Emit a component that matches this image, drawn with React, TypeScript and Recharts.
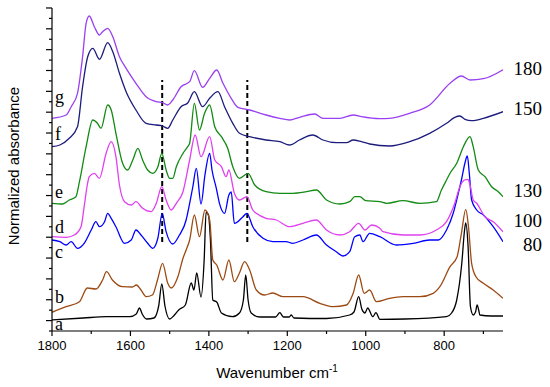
import React from 'react';
import { LineChart, Line, XAxis, YAxis, ReferenceLine } from 'recharts';

// wavenumbers (cm-1) and normalized absorbance (stacked offsets) per spectrum
const waveA = [1800, 1720, 1661, 1602, 1585, 1577, 1570, 1559, 1540, 1528, 1520, 1512, 1500, 1490, 1477, 1460, 1445, 1438, 1431, 1420, 1412, 1407, 1401, 1396, 1390, 1380, 1368, 1340, 1322, 1312, 1306, 1300, 1292, 1270, 1230, 1219, 1210, 1195, 1190, 1183, 1100, 1041, 1030, 1018, 1010, 1002, 995, 982, 974, 964, 900, 794, 781, 768, 755, 748, 745, 739, 733, 726, 720, 716, 712, 709, 680, 650];
const absA = [0.11, 0.13, 0.143, 0.143, 0.17, 0.23, 0.17, 0.12, 0.13, 0.25, 0.47, 0.25, 0.12, 0.15, 0.21, 0.26, 0.48, 0.41, 0.58, 0.34, 0.71, 1.19, 1.16, 0.91, 0.31, 0.29, 0.18, 0.143, 0.18, 0.31, 0.56, 0.31, 0.18, 0.14, 0.14, 0.183, 0.14, 0.14, 0.16, 0.13, 0.125, 0.16, 0.19, 0.343, 0.22, 0.18, 0.23, 0.143, 0.183, 0.117, 0.12, 0.143, 0.18, 0.31, 0.68, 1.01, 1.08, 0.843, 0.243, 0.16, 0.19, 0.26, 0.21, 0.16, 0.15, 0.15];

const waveB = [1800, 1764, 1730, 1710, 1688, 1671, 1661, 1646, 1620, 1595, 1585, 1573, 1560, 1544, 1531, 1518, 1505, 1496, 1479, 1466, 1458, 1449, 1437, 1424, 1410, 1398, 1390, 1380, 1364, 1349, 1335, 1322, 1309, 1296, 1279, 1258, 1237, 1211, 1186, 1160, 1117, 1083, 1049, 1032, 1018, 1004, 990, 973, 939, 905, 862, 828, 811, 785, 767, 756, 745, 738, 730, 719, 700, 675, 650];
const absB = [0.187, 0.243, 0.293, 0.43, 0.42, 0.51, 0.593, 0.51, 0.443, 0.44, 0.46, 0.41, 0.343, 0.36, 0.51, 0.677, 0.48, 0.43, 0.543, 0.727, 0.81, 0.91, 1.16, 0.943, 1.21, 1.11, 0.71, 0.66, 0.51, 0.71, 0.493, 0.58, 0.693, 0.61, 0.41, 0.36, 0.38, 0.343, 0.343, 0.343, 0.277, 0.243, 0.26, 0.377, 0.56, 0.377, 0.41, 0.293, 0.327, 0.343, 0.343, 0.377, 0.443, 0.643, 0.743, 0.977, 1.217, 1.043, 0.677, 0.543, 0.477, 0.41, 0.327];

const waveC = [1800, 1780, 1764, 1751, 1735, 1718, 1700, 1688, 1679, 1666, 1658, 1649, 1637, 1615, 1598, 1586, 1573, 1556, 1543, 1530, 1519, 1509, 1492, 1475, 1458, 1454, 1441, 1432, 1420, 1410, 1398, 1392, 1381, 1373, 1360, 1349, 1343, 1335, 1313, 1303, 1288, 1262, 1237, 1203, 1186, 1160, 1126, 1100, 1075, 1058, 1041, 1028, 1015, 1007, 990, 964, 922, 879, 837, 815, 794, 777, 764, 756, 747, 741, 736, 730, 717, 700, 675, 650];
const absC = [0.91, 0.893, 0.86, 0.893, 0.827, 0.877, 1.01, 1.093, 1.043, 1.093, 1.177, 1.127, 1.043, 0.877, 0.91, 1.01, 0.96, 0.877, 0.827, 0.93, 1.177, 0.993, 0.87, 0.96, 1.11, 1.18, 1.44, 1.627, 1.27, 1.56, 1.777, 1.61, 1.427, 1.277, 1.177, 1.36, 1.39, 1.077, 1.143, 1.177, 1.043, 0.927, 0.893, 0.893, 0.877, 0.91, 0.96, 0.86, 0.793, 0.75, 0.793, 0.943, 0.96, 0.893, 0.977, 0.943, 0.86, 0.877, 0.91, 0.91, 1.01, 1.177, 1.377, 1.51, 1.68, 1.75, 1.58, 1.31, 1.21, 1.16, 1.043, 0.893];

const waveD = [1800, 1764, 1743, 1726, 1718, 1710, 1705, 1692, 1679, 1662, 1649, 1637, 1628, 1615, 1598, 1586, 1569, 1547, 1534, 1520, 1509, 1496, 1483, 1466, 1449, 1435, 1420, 1398, 1385, 1368, 1356, 1349, 1335, 1322, 1303, 1288, 1279, 1254, 1228, 1194, 1160, 1126, 1100, 1066, 1041, 1018, 1002, 985, 964, 956, 905, 862, 820, 794, 773, 760, 748, 740, 734, 726, 717, 696, 675, 650];
const absD = [0.943, 0.937, 0.96, 1.043, 1.243, 1.46, 1.543, 1.577, 1.527, 1.777, 1.893, 1.743, 1.46, 1.293, 1.26, 1.293, 1.227, 1.193, 1.277, 1.443, 1.31, 1.21, 1.277, 1.393, 1.71, 1.96, 1.743, 1.943, 1.71, 1.643, 1.543, 1.61, 1.377, 1.31, 1.343, 1.21, 1.177, 1.127, 1.11, 1.043, 1.077, 1.11, 1.01, 0.96, 0.993, 1.077, 1.01, 1.06, 1.027, 0.993, 0.96, 0.96, 1.01, 1.093, 1.277, 1.443, 1.51, 1.517, 1.46, 1.31, 1.277, 1.143, 1.093, 0.993];

const waveE = [1800, 1773, 1756, 1739, 1730, 1713, 1696, 1684, 1675, 1658, 1649, 1637, 1620, 1607, 1594, 1581, 1569, 1556, 1543, 1530, 1520, 1509, 1500, 1492, 1483, 1466, 1454, 1449, 1437, 1424, 1411, 1398, 1385, 1368, 1352, 1339, 1322, 1300, 1283, 1254, 1219, 1186, 1151, 1126, 1100, 1066, 1041, 1028, 1015, 1000, 964, 947, 905, 862, 820, 807, 794, 785, 768, 751, 734, 726, 713, 696, 679, 662, 650];
const absE = [1.277, 1.27, 1.31, 1.343, 1.493, 1.843, 2.11, 2.077, 2.027, 2.26, 2.21, 1.977, 1.677, 1.61, 1.71, 1.827, 1.71, 1.61, 1.577, 1.643, 1.777, 1.61, 1.527, 1.527, 1.643, 1.777, 1.843, 1.877, 2.277, 2.01, 2.177, 2.26, 2.043, 1.943, 1.827, 1.643, 1.527, 1.577, 1.46, 1.393, 1.377, 1.377, 1.393, 1.41, 1.31, 1.27, 1.293, 1.343, 1.343, 1.303, 1.293, 1.277, 1.303, 1.277, 1.293, 1.41, 1.51, 1.577, 1.677, 1.843, 1.943, 1.843, 1.61, 1.543, 1.443, 1.393, 1.343];

const waveF = [1800, 1780, 1756, 1735, 1722, 1709, 1696, 1679, 1658, 1645, 1628, 1611, 1586, 1560, 1534, 1518, 1505, 1492, 1471, 1454, 1437, 1416, 1398, 1377, 1360, 1339, 1322, 1296, 1254, 1219, 1194, 1169, 1135, 1109, 1075, 1049, 1032, 1011, 990, 939, 888, 837, 794, 773, 760, 747, 730, 700, 650];
const absF = [1.843, 1.86, 1.927, 2.043, 2.443, 2.743, 2.827, 2.717, 2.883, 2.793, 2.577, 2.393, 2.21, 2.077, 2.06, 2.05, 2.027, 2.11, 2.243, 2.28, 2.393, 2.243, 2.327, 2.393, 2.243, 2.077, 1.977, 1.943, 1.91, 1.893, 1.86, 1.91, 1.96, 1.91, 1.883, 1.883, 1.91, 1.893, 1.87, 1.85, 1.893, 1.977, 2.077, 2.137, 2.15, 2.117, 2.103, 2.127, 2.193];

const waveG = [1800, 1764, 1751, 1735, 1722, 1713, 1705, 1692, 1679, 1671, 1658, 1645, 1628, 1611, 1586, 1560, 1534, 1518, 1505, 1492, 1471, 1449, 1437, 1416, 1398, 1380, 1364, 1343, 1326, 1296, 1254, 1219, 1194, 1169, 1130, 1109, 1066, 1032, 1011, 964, 939, 888, 837, 785, 756, 734, 700, 650];
const absG = [2.127, 2.16, 2.243, 2.377, 2.743, 3.077, 3.15, 3.043, 2.96, 2.993, 3.027, 2.943, 2.743, 2.627, 2.477, 2.343, 2.293, 2.283, 2.26, 2.31, 2.443, 2.493, 2.603, 2.437, 2.527, 2.61, 2.477, 2.327, 2.237, 2.21, 2.16, 2.127, 2.11, 2.137, 2.17, 2.127, 2.127, 2.16, 2.143, 2.123, 2.127, 2.177, 2.26, 2.477, 2.55, 2.51, 2.523, 2.613];

const xTicks = [1800, 1700, 1600, 1500, 1400, 1300, 1200, 1100, 1000, 900, 800, 700];
const curveLetters = ['a', 'b', 'c', 'd', 'e', 'f', 'g'];
const tempLabels = ['180', '150', '130', '100', '80'];
const dashedWaves = [1519, 1302];

const yTicks = Array.from({ length: 32 }, (_, i) => +(i * 0.1042).toFixed(4));

const toRows = (w: number[], v: number[]) => w.map((x, i) => ({ w: x, v: v[i] }));

const series = [
  { name: 'a', rows: toRows(waveA, absA), color: '#000000' },
  { name: 'b', rows: toRows(waveB, absB), color: '#9c4a14' },
  { name: 'c', rows: toRows(waveC, absC), color: '#0000ff' },
  { name: 'd', rows: toRows(waveD, absD), color: '#e040f0' },
  { name: 'e', rows: toRows(waveE, absE), color: '#138a13' },
  { name: 'f', rows: toRows(waveF, absF), color: '#1c1c7c' },
  { name: 'g', rows: toRows(waveG, absG), color: '#9a40f0' },
];

const sans = 'Arial, "Liberation Sans", sans-serif';
const serif = '"Times New Roman", "Liberation Serif", serif';

const XTick = (props: any) => {
  const { x, y, payload } = props;
  const major = payload.value % 200 === 0;
  return (
    <g>
      <line x1={x} x2={x} y1={y} y2={y + (major ? 5 : 3)} stroke="#000" strokeWidth={1.2} />
      {major && (
        <text x={x} y={y + 19} textAnchor="middle" fontSize={13} fontFamily={sans} fill="#000">
          {payload.value}
        </text>
      )}
    </g>
  );
};

const YTick = (props: any) => {
  const { x, y, index } = props;
  const major = index % 2 === 1;
  return <line x1={x - (major ? 6 : 3)} x2={x} y1={y} y2={y} stroke="#000" strokeWidth={1.2} />;
};

// label baselines
const letterY = [330, 303, 258, 233, 198, 140, 103];
const tempY = [75, 115, 197, 227, 251];

export default function App() {
  return (
    <div style={{ position: 'absolute', left: 0, top: 0, width: 550, height: 387, background: '#fff' }}>
      <LineChart width={550} height={387} margin={{ top: 8, right: 47, bottom: 26, left: 0 }}>
        <XAxis
          dataKey="w"
          type="number"
          domain={[650, 1800]}
          reversed
          allowDataOverflow
          ticks={xTicks}
          interval={0}
          height={30}
          tickLine={false}
          tickSize={0}
          tickMargin={0}
          tick={<XTick />}
          axisLine={{ stroke: '#000', strokeWidth: 1.2 }}
        />
        <YAxis
          type="number"
          domain={[0, 3.23]}
          ticks={yTicks}
          interval={0}
          width={52}
          allowDataOverflow
          tickLine={false}
          tickSize={0}
          tickMargin={0}
          tick={<YTick />}
          axisLine={{ stroke: '#000', strokeWidth: 1.2 }}
        />
        {dashedWaves.map((w) => (
          <ReferenceLine
            key={w}
            segment={[{ x: w, y: 0.89 }, { x: w, y: 2.51 }]}
            stroke="#000"
            strokeWidth={2}
            strokeDasharray="5 3"
          />
        ))}
        {series.map((s) => (
          <Line
            key={s.name}
            data={s.rows}
            dataKey="v"
            type="monotone"
            stroke={s.color}
            strokeWidth={1.3}
            dot={false}
            isAnimationActive={false}
          />
        ))}
      </LineChart>
      <svg width={550} height={387} style={{ position: 'absolute', left: 0, top: 0, pointerEvents: 'none' }}>
        {curveLetters.map((c, i) => (
          <text key={c} x={55} y={letterY[i]} fontSize={18} fontFamily={serif} fill="#000">
            {c}
          </text>
        ))}
        {tempLabels.map((t, i) => (
          <text key={t} x={542} y={tempY[i]} textAnchor="end" fontSize={19} fontFamily={serif} fill="#000">
            {t}
          </text>
        ))}
        <text x={277} y={378} textAnchor="middle" fontSize={15} fontFamily={sans} fill="#000">
          Wavenumber cm
          <tspan fontSize={10} dy={-6}>-1</tspan>
        </text>
        <text
          x={19}
          y={166}
          textAnchor="middle"
          fontSize={15}
          fontFamily={sans}
          fill="#000"
          transform="rotate(-90 19 166)"
        >
          Normalized absorbance
        </text>
      </svg>
    </div>
  );
}
